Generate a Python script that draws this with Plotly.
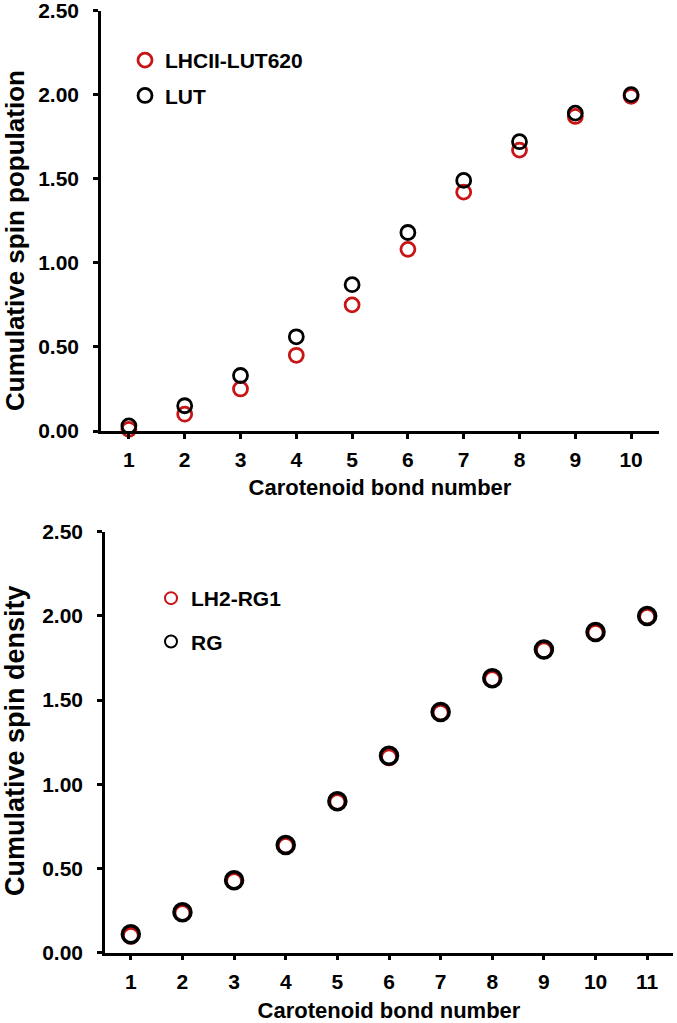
import plotly.graph_objects as go

# ---- data ----
bonds_top = [1, 2, 3, 4, 5, 6, 7, 8, 9, 10]
lhcii_lut620 = [0.01, 0.10, 0.25, 0.45, 0.75, 1.08, 1.42, 1.67, 1.87, 1.99]
lut = [0.03, 0.15, 0.33, 0.56, 0.87, 1.18, 1.49, 1.72, 1.89, 2.00]

bonds_bot = [1, 2, 3, 4, 5, 6, 7, 8, 9, 10, 11]
lh2_rg1 = [0.10, 0.235, 0.425, 0.635, 0.895, 1.16, 1.425, 1.625, 1.795, 1.90, 1.995]
rg = [0.11, 0.24, 0.43, 0.64, 0.90, 1.17, 1.43, 1.63, 1.80, 1.905, 2.00]

y_ticks = [0, 0.5, 1.0, 1.5, 2.0, 2.5]

x_title = "Carotenoid bond number"
y_title_top = "Cumulative spin population"
y_title_bot = "Cumulative spin density"

RED = "#C81414"
BLACK = "#000000"
FONT = "Liberation Sans, Arial, sans-serif"
W, H = 677, 1023

fig = go.Figure()

fig.add_trace(go.Scatter(x=bonds_top, y=lhcii_lut620, mode="markers", name="<b>LHCII-LUT620</b>",
                         marker=dict(symbol="circle-open", size=14, color=RED, line=dict(width=2.8, color=RED)),
                         xaxis="x", yaxis="y", legend="legend", legendgroup="a", cliponaxis=False))
fig.add_trace(go.Scatter(x=bonds_top, y=lut, mode="markers", name="<b>LUT</b>",
                         marker=dict(symbol="circle-open", size=14, color=BLACK, line=dict(width=2.8, color=BLACK)),
                         xaxis="x", yaxis="y", legend="legend", legendgroup="b", cliponaxis=False))

fig.add_trace(go.Scatter(x=bonds_bot, y=lh2_rg1, mode="markers", name="<b>LH2-RG1</b>",
                         marker=dict(symbol="circle-open", size=15, color=RED, line=dict(width=2.8, color=RED)),
                         xaxis="x2", yaxis="y2", legend="legend2", legendgroup="c", cliponaxis=False))
fig.add_trace(go.Scatter(x=bonds_bot, y=rg, mode="markers", name="<b>RG</b>",
                         marker=dict(symbol="circle-open", size=17, color=BLACK, line=dict(width=3.5, color=BLACK)),
                         xaxis="x2", yaxis="y2", legend="legend2", legendgroup="d", cliponaxis=False))

axis_common = dict(showline=True, linecolor=BLACK, linewidth=2.5, ticks="outside", ticklen=5,
                   tickwidth=2.5, tickcolor=BLACK, showgrid=False, zeroline=False, automargin=False,
                   ticklabeloverflow="allow",
                   tickfont=dict(family=FONT, size=21, color=BLACK, weight="bold"))

fig.update_layout(
    width=W, height=H,
    margin=dict(l=0, r=0, t=0, b=0, autoexpand=False),
    paper_bgcolor="white", plot_bgcolor="white",
    xaxis=dict(axis_common, domain=[101 / W, 659 / W], range=[0.5, 10.5], tickvals=bonds_top,
               anchor="y", ticklabelstandoff=3,
               title=dict(text=f"<b>{x_title}</b>", standoff=10,
                          font=dict(family=FONT, size=22, color=BLACK))),
    yaxis=dict(axis_common, domain=[1 - 431 / H, 1 - 10.5 / H], range=[0, 2.5], tickvals=y_ticks,
               tickformat=".2f", anchor="x", ticklabelstandoff=10),
    xaxis2=dict(axis_common, domain=[105 / W, 673 / W], range=[0.5, 11.5], tickvals=bonds_bot,
                anchor="y2", ticklabelstandoff=3,
                title=dict(text=f"<b>{x_title}</b>", standoff=14,
                           font=dict(family=FONT, size=22, color=BLACK))),
    yaxis2=dict(axis_common, domain=[1 - 952.7 / H, 1 - 531.7 / H], range=[0, 2.5], tickvals=y_ticks,
                tickformat=".2f", anchor="x2", ticklabelstandoff=10),
    legend=dict(x=125 / W, y=1 - 40 / H, xanchor="left", yanchor="top", bgcolor="rgba(0,0,0,0)",
                font=dict(family=FONT, size=21, color=BLACK), tracegroupgap=5, itemsizing="trace"),
    legend2=dict(x=151 / W, y=1 - 578 / H, xanchor="left", yanchor="top", bgcolor="rgba(0,0,0,0)",
                 font=dict(family=FONT, size=21, color=BLACK), tracegroupgap=13, itemsizing="constant"),
    annotations=[
        dict(text=f"<b>{y_title_top}</b>", textangle=-90, xref="paper", yref="paper",
             x=15 / W, y=1 - 241 / H, xanchor="center", yanchor="middle", showarrow=False,
             font=dict(family=FONT, size=26, color=BLACK)),
        dict(text=f"<b>{y_title_bot}</b>", textangle=-90, xref="paper", yref="paper",
             x=15 / W, y=1 - 741 / H, xanchor="center", yanchor="middle", showarrow=False,
             font=dict(family=FONT, size=27, color=BLACK)),
    ],
)

fig.write_html("out.html", config={"displayModeBar": False},
               post_script="document.body.style.margin='0px';document.body.style.overflow='hidden';")
